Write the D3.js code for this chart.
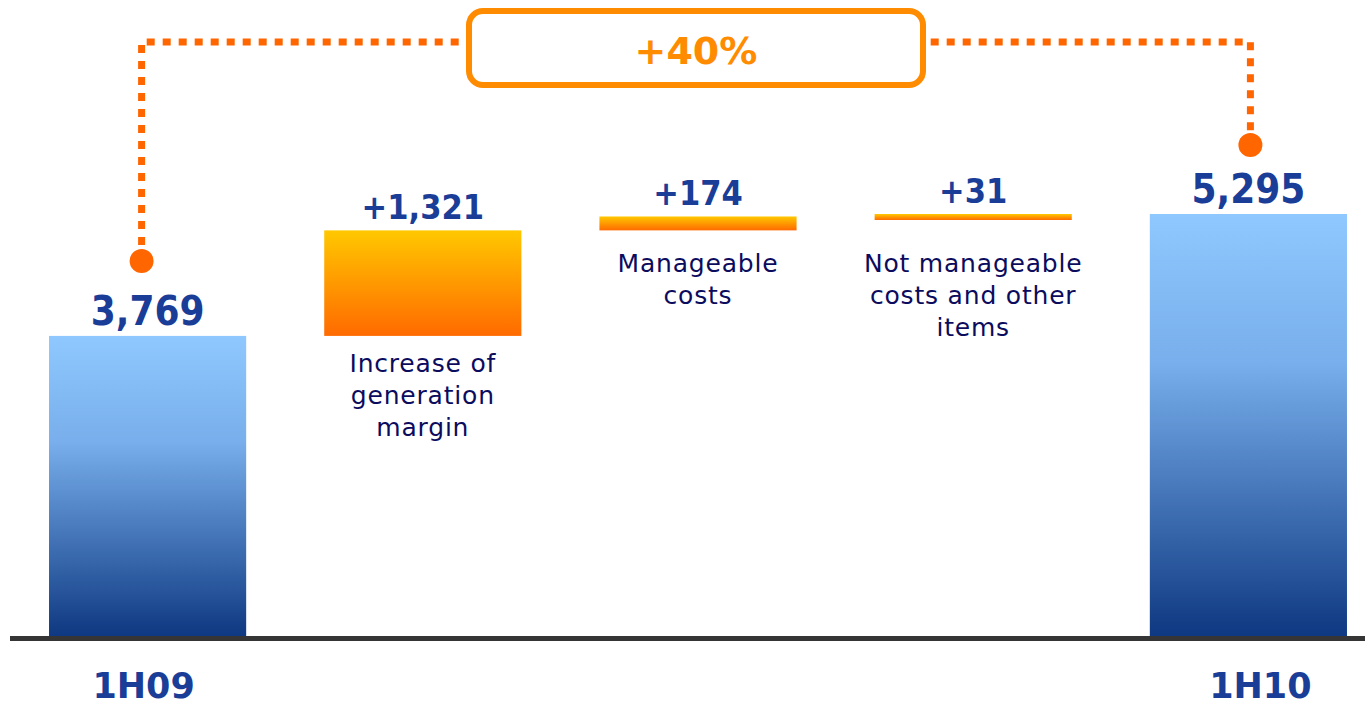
<!DOCTYPE html>
<html>
<head>
<meta charset="utf-8">
<script src="https://cdn.jsdelivr.net/npm/d3@7"></script>
<style>
  html, body { margin: 0; padding: 0; background: #fff; }
  svg { display: block; }
</style>
</head>
<body>
<div class="chart"></div>
<script>
// data
var categories = ['1H09', 'Increase of generation margin', 'Manageable costs', 'Not manageable costs and other items', '1H10'];
var labelLines = [[], ['Increase of', 'generation', 'margin'], ['Manageable', 'costs'], ['Not manageable', 'costs and other', 'items'], []];
var values = [3769, 1321, 174, 31, 5295];
var kinds = ['total', 'delta', 'delta', 'delta', 'total'];
var valueLabels = ['3,769', '+1,321', '+174', '+31', '5,295'];
var growthLabel = '+40%';

var svgWidth = 1365;
var svgHeight = 707;
var baseY = 637;

// build waterfall start/end
var running = 0;
var steps = values.map(function(v, i) {
    var s, e;
    if (kinds[i] === 'total') { s = 0; e = v; running = v; }
    else { s = running; e = running + v; running = e; }
    return { cat: categories[i], lines: labelLines[i], kind: kinds[i], start: s, end: e, label: valueLabels[i] };
});

var x = d3.scaleBand()
    .domain(categories)
    .range([10, 1386])
    .paddingInner(0.2836)
    .paddingOuter(0.1418);

var y = d3.scaleLinear()
    .domain([0, 5295])
    .range([baseY, 214]);

var svg = d3.select('.chart').append('svg')
    .attr('width', svgWidth)
    .attr('height', svgHeight);

var defs = svg.append('defs');
var blue = defs.append('linearGradient').attr('id', 'blueGrad')
    .attr('x1', 0).attr('y1', 0).attr('x2', 0).attr('y2', 1);
blue.append('stop').attr('offset', '0%').attr('stop-color', '#8fc8fe');
blue.append('stop').attr('offset', '35%').attr('stop-color', '#78afec');
blue.append('stop').attr('offset', '100%').attr('stop-color', '#0e3881');

var orange = defs.append('linearGradient').attr('id', 'orangeGrad')
    .attr('x1', 0).attr('y1', 0).attr('x2', 0).attr('y2', 1);
orange.append('stop').attr('offset', '0%').attr('stop-color', '#ffc800');
orange.append('stop').attr('offset', '100%').attr('stop-color', '#ff6a00');

var minH = 6;

// bars
svg.selectAll('rect.bar')
    .data(steps)
    .enter()
    .append('rect')
    .attr('class', 'bar')
    .attr('x', function(d) { return x(d.cat); })
    .attr('y', function(d) { return y(d.end); })
    .attr('width', x.bandwidth())
    .attr('height', function(d) { return Math.max(y(d.start) - y(d.end), minH); })
    .attr('fill', function(d) { return d.kind === 'total' ? 'url(#blueGrad)' : 'url(#orangeGrad)'; });

// baseline
svg.append('line')
    .attr('x1', 10).attr('x2', svgWidth)
    .attr('y1', baseY + 1.5).attr('y2', baseY + 1.5)
    .attr('stroke', '#353535')
    .attr('stroke-width', 5);

var condensed = '"DejaVu Sans Condensed", "DejaVu Sans", sans-serif';
var wide = '"DejaVu Sans", Verdana, sans-serif';

// value labels
svg.selectAll('text.val')
    .data(steps)
    .enter()
    .append('text')
    .attr('class', 'val')
    .text(function(d) { return d.label; })
    .attr('x', function(d) { return x(d.cat) + x.bandwidth() / 2; })
    .attr('y', function(d) { return y(d.end) - 11; })
    .attr('text-anchor', 'middle')
    .attr('font-family', condensed)
    .attr('font-weight', 'bold')
    .attr('font-stretch', 'condensed')
    .attr('font-size', function(d) { return d.kind === 'total' ? '40px' : '34px'; })
    .attr('fill', '#1a3d97');

// category descriptions under the delta bars
steps.forEach(function(d) {
    if (!d.lines.length) return;
    var bottom = Math.max(y(d.start), y(d.end) + minH);
    var firstY = Math.max(bottom + 36, 272);
    var t = svg.append('text')
        .attr('text-anchor', 'middle')
        .attr('font-family', wide)
        .attr('font-size', '25px')
        .attr('letter-spacing', '0.8px')
        .attr('fill', '#0c0c5e');
    d.lines.forEach(function(line, j) {
        t.append('tspan')
            .attr('x', x(d.cat) + x.bandwidth() / 2)
            .attr('y', firstY + j * 32)
            .text(line);
    });
});

// x axis labels for the totals
svg.selectAll('text.cat')
    .data(steps.filter(function(d) { return d.kind === 'total'; }))
    .enter()
    .append('text')
    .attr('class', 'cat')
    .text(function(d) { return d.cat; })
    .attr('x', function(d, i) { return x(d.cat) + x.bandwidth() / 2 + (i === 0 ? -4 : 12); })
    .attr('y', 698)
    .attr('text-anchor', 'middle')
    .attr('font-family', wide)
    .attr('font-weight', 'bold')
    .attr('font-size', '35px')
    .attr('fill', '#1a3d97');

// growth connector
var first = steps[0], last = steps[steps.length - 1];
var x1 = x(first.cat) + x.bandwidth() / 2 - 6;
var x2 = x(last.cat) + x.bandwidth() / 2 + 2;
var d1 = y(first.end) - 75;
var d2 = y(last.end) - 69;
var topY = 42;

svg.append('path')
    .attr('d', d3.line()([[x1, d1], [x1, topY], [x2, topY], [x2, d2]]))
    .attr('fill', 'none')
    .attr('stroke', '#ff6600')
    .attr('stroke-width', 7)
    .attr('stroke-dasharray', '8 8');

svg.selectAll('circle.end')
    .data([[x1, d1], [x2, d2]])
    .enter()
    .append('circle')
    .attr('cx', function(d) { return d[0]; })
    .attr('cy', function(d) { return d[1]; })
    .attr('r', 12)
    .attr('fill', '#ff6600');

var midX = (x1 + x2) / 2;
svg.append('rect')
    .attr('x', midX - 227)
    .attr('y', 11)
    .attr('width', 454)
    .attr('height', 74)
    .attr('rx', 14)
    .attr('fill', '#fff')
    .attr('stroke', '#ff8c00')
    .attr('stroke-width', 6);

svg.append('text')
    .text(growthLabel)
    .attr('x', midX)
    .attr('y', 64)
    .attr('text-anchor', 'middle')
    .attr('font-family', wide)
    .attr('font-weight', 'bold')
    .attr('font-size', '38px')
    .attr('fill', '#ff8c00');
</script>
</body>
</html>
